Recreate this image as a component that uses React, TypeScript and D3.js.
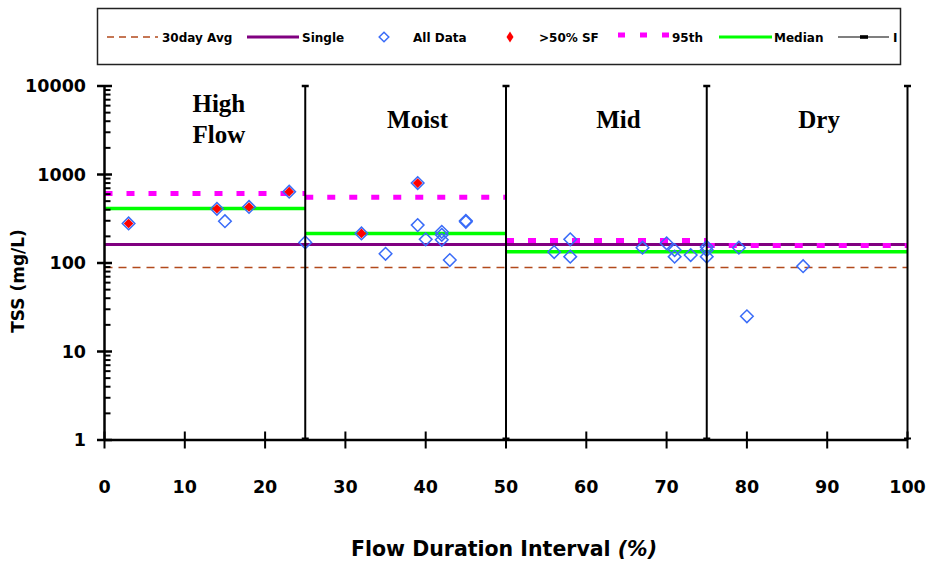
import React from "react";
import * as d3 from "d3";

const W = 929;
const H = 561;

// Flow duration zones
const zoneBounds = [0, 25, 50, 75, 100];
const zoneNames = ["High\nFlow", "Moist", "Mid", "Dry"];
const p95Values = [610, 554, 180, 158];
const medianValues = [413, 216, 134, 134];
const singleValue = 162;
const avg30Value = 89;

// All data points
const allDataX = [3, 14, 15, 18, 23, 25, 32, 35, 39, 39, 40, 42, 42, 42, 43, 45, 45, 56, 58, 58, 67, 70, 71, 71, 73, 75, 75, 75, 79, 80, 87];
const allDataY = [280, 410, 297, 430, 640, 171, 216, 127, 800, 268, 185, 225, 208, 183, 108, 300, 292, 133, 185, 118, 149, 167, 140, 118, 123, 152, 140, 118, 149, 25, 92];

// > 50% SF subset
const sfX = [3, 14, 18, 23, 32, 39];
const sfY = [280, 410, 430, 640, 216, 800];

const xTicks = [0, 10, 20, 30, 40, 50, 60, 70, 80, 90, 100];
const yTicks = [1, 10, 100, 1000, 10000];

const legendLabels = ["30day Avg", "Single", "All Data", ">50% SF", "95th", "Median", "I"];

const COL_AVG = "#b24a1c";
const COL_SINGLE = "#800080";
const COL_BLUE = "#3a6cf8";
const COL_RED = "#ff0000";
const COL_P95 = "#ff00ff";
const COL_MED = "#00ff00";

const tickFont = "'DejaVu Sans', sans-serif";

function diamond(cx: number, cy: number, r: number) {
  return `M${cx},${cy - r}L${cx + r},${cy}L${cx},${cy + r}L${cx - r},${cy}Z`;
}

export default function App() {
  const x = d3.scaleLinear().domain([0, 100]).range([104.5, 907.5]);
  const y = d3.scaleLog().domain([1, 10000]).range([440, 86]);

  const minorTicks: number[] = [];
  for (let d = 1; d < 10000; d *= 10) {
    for (let k = 2; k <= 9; k++) minorTicks.push(d * k);
  }

  const zones = zoneNames.map((n, i) => ({ name: n, x0: zoneBounds[i], x1: zoneBounds[i + 1] }));

  const ly = 37;
  const legendText = { fontFamily: tickFont, fontSize: 12, fontWeight: "bold" };
  return (
    <svg width={W} height={H} style={{ position: "absolute", left: 0, top: 0, background: "#fff" }}>
      {/* Legend */}
      <rect x={97.5} y={8.5} width={803} height={56} fill="#fff" stroke="#222" strokeWidth={1.5} />
      <line x1={107} x2={158} y1={ly} y2={ly} stroke={COL_AVG} strokeWidth={1.3} strokeDasharray="7,5" />
      <text x={162} y={ly + 4.5} {...legendText}>{legendLabels[0]}</text>
      <line x1={247} x2={299} y1={ly} y2={ly} stroke={COL_SINGLE} strokeWidth={3} />
      <text x={302} y={ly + 4.5} {...legendText}>{legendLabels[1]}</text>
      <path d={diamond(384, ly, 4.8)} fill="none" stroke={COL_BLUE} strokeWidth={1.5} />
      <text x={413} y={ly + 4.5} {...legendText}>{legendLabels[2]}</text>
      <path d={`M510,${ly - 5.5}L513.5,${ly}L510,${ly + 5.5}L506.5,${ly}Z`} fill={COL_RED} />
      <text x={539} y={ly + 4.5} {...legendText}>{legendLabels[3]}</text>
      <line x1={618} x2={669} y1={ly - 2} y2={ly - 2} stroke={COL_P95} strokeWidth={5} strokeDasharray="7,15" />
      <text x={672} y={ly + 4.5} {...legendText}>{legendLabels[4]}</text>
      <line x1={719} x2={772} y1={ly} y2={ly} stroke={COL_MED} strokeWidth={3} />
      <text x={774} y={ly + 4.5} {...legendText}>{legendLabels[5]}</text>
      <line x1={838} x2={889} y1={ly} y2={ly} stroke="#000" strokeWidth={1.2} />
      <rect x={860} y={ly - 1.8} width={8} height={3.6} fill="#000" />
      <text x={893} y={ly + 4.5} {...legendText}>{legendLabels[6]}</text>

      {/* Reference lines */}
      <line x1={x(0)} x2={x(100)} y1={y(avg30Value)} y2={y(avg30Value)} stroke={COL_AVG} strokeWidth={1.3} strokeDasharray="8,6" />
      <line x1={x(0)} x2={x(100)} y1={y(singleValue)} y2={y(singleValue)} stroke={COL_SINGLE} strokeWidth={3} />
      {zones.map((z, i) => (
        <line key={"p" + i} x1={x(z.x0)} x2={x(z.x1)} y1={y(p95Values[i])} y2={y(p95Values[i])} stroke={COL_P95} strokeWidth={5} strokeDasharray="8,14" />
      ))}
      {zones.map((z, i) => (
        <line key={"m" + i} x1={x(z.x0)} x2={x(z.x1)} y1={y(medianValues[i])} y2={y(medianValues[i])} stroke={COL_MED} strokeWidth={3.5} />
      ))}

      {/* Data */}
      {allDataX.map((v, i) => (
        <path key={"a" + i} d={diamond(x(v), y(allDataY[i]), 6.3)} fill="none" stroke={COL_BLUE} strokeWidth={1.5} />
      ))}
      {sfX.map((v, i) => (
        <path key={"s" + i} d={diamond(x(v), y(sfY[i]), 4.8)} fill={COL_RED} />
      ))}

      {/* Zone divider error bars */}
      {zoneBounds.slice(1).map((b) => (
        <g key={"e" + b}>
          <line x1={x(b)} x2={x(b)} y1={y(1)} y2={y(10000)} stroke="#000" strokeWidth={2} />
          <line x1={x(b) - 3.5} x2={x(b) + 3.5} y1={y(10000)} y2={y(10000)} stroke="#000" strokeWidth={2.5} />
          <line x1={x(b) - 3.5} x2={x(b) + 3.5} y1={y(1) - 1.5} y2={y(1) - 1.5} stroke="#000" strokeWidth={2} />
        </g>
      ))}

      {/* Zone labels */}
      {zones.map((z, i) => {
        const lines = z.name.split("\n");
        const cx = (x(z.x0) + x(z.x1)) / 2 + (i === 0 ? 14 : 12);
        return (
          <text key={"z" + i} x={cx} textAnchor="middle" fontFamily="'Liberation Serif', 'Times New Roman', serif" fontWeight="bold" fontSize={25}>
            {lines.length === 1 ? (
              <tspan x={cx} y={128}>{lines[0]}</tspan>
            ) : (
              lines.map((l, j) => (
                <tspan key={j} x={cx} y={112 + j * 31}>{l}</tspan>
              ))
            )}
          </text>
        );
      })}

      {/* Y axis */}
      <line x1={x(0)} x2={x(0)} y1={y(1)} y2={y(10000)} stroke="#000" strokeWidth={2.5} />
      {minorTicks.map((t) => (
        <line key={"mt" + t} x1={x(0)} x2={x(0) + 6} y1={y(t)} y2={y(t)} stroke="#000" strokeWidth={2} />
      ))}
      {yTicks.map((t) => (
        <g key={"yt" + t}>
          <line x1={x(0) - 7.5} x2={x(0) + 7.5} y1={y(t)} y2={y(t)} stroke="#000" strokeWidth={2.5} />
          <text x={86} y={y(t)} dy="0.36em" textAnchor="end" fontFamily={tickFont} fontWeight="bold" fontSize={17.5}>{t}</text>
        </g>
      ))}

      {/* X axis */}
      <line x1={x(0)} x2={x(100)} y1={y(1)} y2={y(1)} stroke="#000" strokeWidth={2.5} />
      {xTicks.map((t) => (
        <g key={"xt" + t}>
          <line x1={x(t)} x2={x(t)} y1={y(1) - 8.5} y2={y(1) + 8.5} stroke="#000" strokeWidth={2} />
          <text x={x(t)} y={493} textAnchor="middle" fontFamily={tickFont} fontWeight="bold" fontSize={17.5}>{t}</text>
        </g>
      ))}

      {/* Axis titles */}
      <text x={504} y={556} textAnchor="middle" fontFamily={tickFont} fontWeight="bold" fontSize={20.5}>
        Flow Duration Interval <tspan fontStyle="italic">(%)</tspan>
      </text>
      <text transform="translate(24,281) rotate(-90)" textAnchor="middle" fontFamily={tickFont} fontWeight="bold" fontSize={17}>
        TSS (mg/L)
      </text>
    </svg>
  );
}
